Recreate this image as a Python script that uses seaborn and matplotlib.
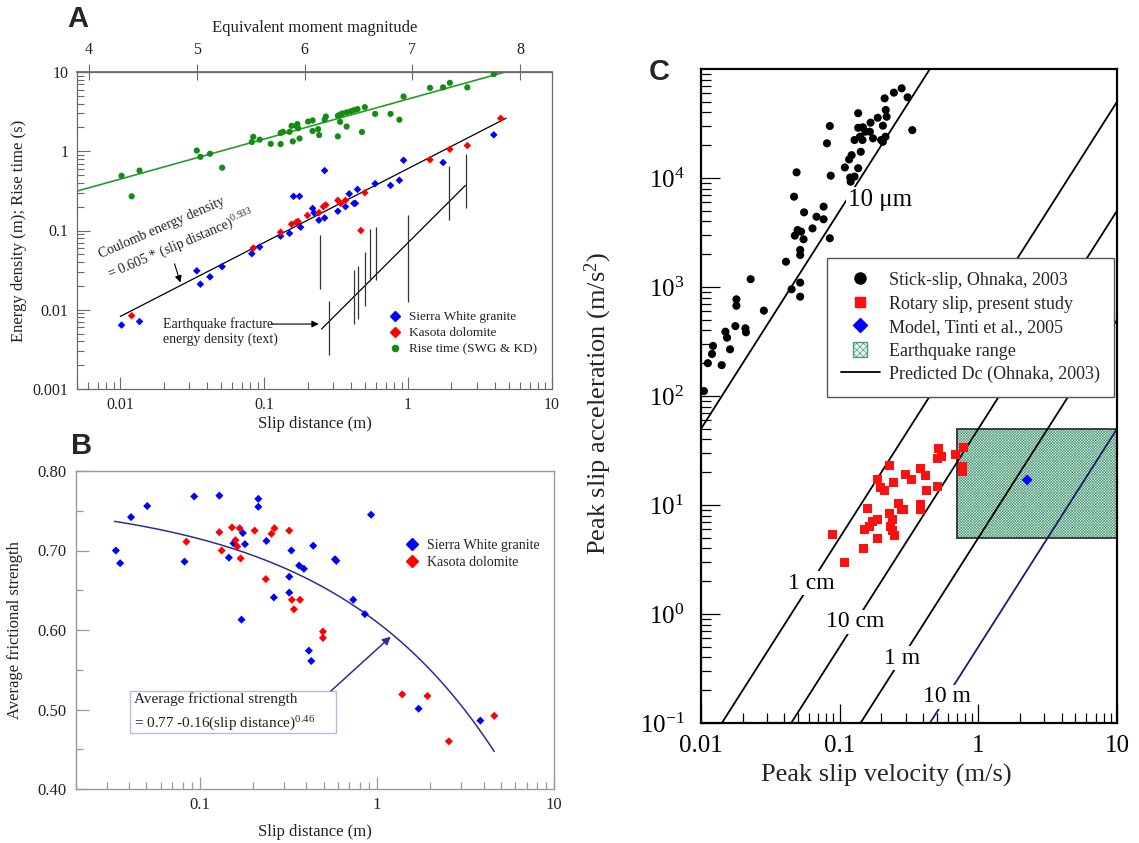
import numpy as np
import matplotlib
matplotlib.use("Agg")
import matplotlib.pyplot as plt
import seaborn as sns
from matplotlib.patches import Rectangle, Patch
from matplotlib.lines import Line2D
from matplotlib.legend_handler import HandlerPatch
from matplotlib.ticker import FixedLocator, NullFormatter, LogLocator, FuncFormatter, MultipleLocator

# ---------------- data: panel A ----------------
swg_slip = [0.0102, 0.0136, 0.034, 0.036, 0.042, 0.051, 0.082, 0.093, 0.13, 0.15,
            0.179, 0.217, 0.222, 0.24, 0.263, 0.325, 0.367, 0.42, 0.43, 0.16,
            0.176, 0.263, 0.39, 0.445, 0.59, 0.755, 0.87, 0.93, 1.75, 3.94]
swg_energy = [0.0064, 0.0071, 0.031, 0.021, 0.026, 0.035, 0.051, 0.062, 0.085, 0.092,
              0.11, 0.19, 0.167, 0.135, 0.144, 0.175, 0.20, 0.22, 0.22, 0.27,
              0.27, 0.57, 0.29, 0.33, 0.39, 0.37, 0.43, 0.77, 0.72, 1.61]

kd_slip = [0.012, 0.084, 0.13, 0.155, 0.167, 0.172, 0.20, 0.24, 0.258, 0.268,
           0.325, 0.34, 0.367, 0.47, 0.50, 1.42, 1.95, 2.58, 4.4]
kd_energy = [0.0084, 0.06, 0.095, 0.12, 0.127, 0.13, 0.155, 0.168, 0.20, 0.21,
             0.24, 0.22, 0.24, 0.10, 0.30, 0.78, 1.06, 1.18, 2.6]

rise_slip = [0.0102, 0.0136, 0.012, 0.034, 0.036, 0.042, 0.051, 0.084, 0.082, 0.093,
             0.111, 0.130, 0.135, 0.130, 0.150, 0.155, 0.167, 0.170, 0.172, 0.158,
             0.176, 0.202, 0.217, 0.217, 0.237, 0.241, 0.263, 0.268, 0.325, 0.337,
             0.35, 0.337, 0.325, 0.374, 0.374, 0.40, 0.42, 0.445, 0.478, 0.50,
             0.59, 0.755, 0.87, 0.93, 1.42, 1.75, 1.95, 2.58, 3.94]
rise_time = [0.49, 0.57, 0.27, 1.02, 0.85, 0.93, 0.62, 1.52, 1.31, 1.40,
             1.24, 1.70, 1.76, 1.23, 1.76, 2.09, 2.09, 2.20, 1.95, 1.33,
             1.45, 2.37, 2.45, 1.80, 1.90, 1.60, 2.50, 2.74, 2.80, 2.90,
             3.00, 2.35, 1.54, 2.05, 3.10, 3.20, 3.30, 3.40, 1.75, 3.60,
             2.96, 2.96, 2.50, 4.90, 6.30, 6.40, 7.30, 6.40, 9.40]

# earthquake fracture energy density ranges (slip, low, high)
eq_slip = [0.245, 0.284, 0.418, 0.449, 0.50, 0.54, 0.597, 1.0, 1.92, 2.51]
eq_low = [0.0185, 0.0027, 0.0066, 0.0076, 0.011, 0.023, 0.024, 0.0125, 0.134, 0.19]
eq_high = [0.089, 0.0129, 0.032, 0.036, 0.053, 0.105, 0.111, 0.159, 0.66, 0.93]
eq_trend_slip = [0.25, 2.5]
eq_trend_energy = [0.0057, 0.37]

# fitted relations
coulomb_a, coulomb_b = 0.605, 0.933
rise_a, rise_b = 4.56, 0.505

# ---------------- data: panel B ----------------
swg_b_slip = [0.0336, 0.0355, 0.0409, 0.0505, 0.082, 0.093, 0.129, 0.146, 0.155, 0.175,
              0.18, 0.172, 0.214, 0.214, 0.238, 0.262, 0.32, 0.32, 0.329, 0.364,
              0.387, 0.413, 0.426, 0.437, 0.58, 0.59, 0.735, 0.855, 0.927, 1.72, 3.84]
swg_b_fric = [0.700, 0.684, 0.742, 0.756, 0.686, 0.768, 0.769, 0.691, 0.709, 0.722,
              0.708, 0.613, 0.765, 0.755, 0.712, 0.641, 0.667, 0.647, 0.700, 0.681,
              0.677, 0.574, 0.561, 0.706, 0.689, 0.687, 0.638, 0.620, 0.745, 0.501, 0.486]
kd_b_slip = [0.084, 0.129, 0.133, 0.152, 0.159, 0.163, 0.168, 0.17, 0.204, 0.236,
             0.254, 0.264, 0.32, 0.331, 0.34, 0.368, 0.496, 0.496, 1.39, 1.93, 2.55, 4.6]
kd_b_fric = [0.711, 0.723, 0.700, 0.729, 0.713, 0.705, 0.728, 0.690, 0.725, 0.664,
             0.721, 0.728, 0.725, 0.638, 0.626, 0.638, 0.598, 0.590, 0.519, 0.517, 0.460, 0.492]
fric_c0, fric_c1, fric_p = 0.77, 0.16, 0.46

# ---------------- data: panel C ----------------
stick_v = [0.0105, 0.0112, 0.0122, 0.012, 0.0141, 0.015, 0.0154, 0.0162, 0.0177, 0.018,
           0.018, 0.0209, 0.0211, 0.0228, 0.0284, 0.041, 0.045, 0.0469, 0.0489, 0.0475,
           0.0497, 0.0527, 0.0549, 0.0519, 0.0519, 0.0519, 0.0519, 0.0554, 0.0637, 0.0681,
           0.0766, 0.0766, 0.0849, 0.0849, 0.081, 0.0862, 0.109, 0.117, 0.122, 0.119,
           0.120, 0.128, 0.136, 0.136, 0.128, 0.136, 0.14, 0.146, 0.142, 0.147,
           0.153, 0.167, 0.165, 0.174, 0.188, 0.199, 0.205, 0.211, 0.215, 0.218,
           0.214, 0.205, 0.246, 0.28, 0.309, 0.334]
stick_a = [111, 200, 288, 243, 192, 389, 343, 268, 438, 771,
           673, 418, 384, 1180, 607, 1706, 953, 6740, 11270, 2960,
           3330, 3220, 2740, 2190, 1966, 1097, 815, 4840, 3450, 4410,
           4180, 5460, 2800, 30000, 20800, 10500, 12500, 14800, 16200, 10100,
           9250, 10300, 12300, 39300, 22300, 28900, 23900, 22300, 17400, 29200,
           26600, 32200, 26600, 23100, 35700, 22300, 30200, 53800, 42100, 36500,
           23900, 21500, 60700, 66500, 55000, 27500]

rotary_v = [0.089, 0.109, 0.149, 0.158, 0.15, 0.164, 0.173, 0.186, 0.188, 0.186,
            0.197, 0.21, 0.229, 0.246, 0.229, 0.239, 0.232, 0.241, 0.249, 0.265,
            0.277, 0.289, 0.297, 0.327, 0.383, 0.383, 0.38, 0.414, 0.424, 0.506,
            0.518, 0.51, 0.546, 0.68, 0.77, 0.78, 0.77]
rotary_a = [5.4, 2.98, 3.95, 9.3, 5.9, 6.3, 7.1, 7.4, 4.9, 17.0,
            14.5, 13.7, 22.9, 16.0, 8.4, 7.3, 6.3, 5.8, 5.2, 10.4,
            9.0, 9.0, 19.2, 17.0, 21.7, 10.0, 9.0, 18.8, 13.7, 14.9,
            32.7, 26.8, 27.7, 28.8, 20.2, 33.6, 22.4]

model_v = [2.25]
model_a = [17.0]

eq_range_v = [0.7, 10.0]
eq_range_a = [5.0, 50.0]

dc_values = [1e-5, 1e-2, 1e-1, 1.0, 10.0]
dc_names = ["10 \u03bcm", "1 cm", "10 cm", "1 m", "10 m"]
dc_label_acc = [6280, 1.92, 0.85, 0.394, 0.174]
ohnaka_k = 5.0

# ---------------- style ----------------
sns.set_theme(style="ticks")
plt.rcParams["font.family"] = ["Liberation Serif", "DejaVu Serif"]
plt.rcParams["mathtext.default"] = "regular"
plt.rcParams["hatch.linewidth"] = 0.45
plt.rcParams["axes.unicode_minus"] = False

W, H = 1139, 843
fig = plt.figure(figsize=(W / 100, H / 100), dpi=100)


def box(l, t, r, b):
    return [l / W, 1 - b / H, (r - l) / W, (b - t) / H]


def plain(v, pos):
    return f"{v:g}"


GREY = "#6a6a6a"
TXT = "#222222"

# ================= Panel A =================
axA = fig.add_axes(box(77, 72, 552, 389))
axA.set_xscale("log")
axA.set_yscale("log")

d_fit = np.logspace(np.log10(0.005), 1, 200)
sns.lineplot(x=d_fit, y=rise_a * d_fit ** rise_b, ax=axA, color="#2a9a2a",
             linewidth=1.2, estimator=None, sort=False)
d_c = np.logspace(-2, np.log10(4.8), 100)
sns.lineplot(x=d_c, y=coulomb_a * d_c ** coulomb_b, ax=axA, color="black",
             linewidth=0.9, estimator=None, sort=False)
sns.lineplot(x=eq_trend_slip, y=eq_trend_energy, ax=axA, color="black",
             linewidth=0.9, estimator=None, sort=False)
axA.vlines(eq_slip, eq_low, eq_high, color="#333333", linewidth=0.9)

sns.scatterplot(x=rise_slip, y=rise_time, ax=axA, marker="o", color="#148c14",
                s=20, edgecolor="none", zorder=3)
sns.scatterplot(x=swg_slip, y=swg_energy, ax=axA, marker="D", color="#0000ff",
                s=15, edgecolor="none", zorder=3)
sns.scatterplot(x=kd_slip, y=kd_energy, ax=axA, marker="D", color="#ff0000",
                s=15, edgecolor="none", zorder=3)

axA.set_xlim(0.005, 10)
axA.set_ylim(0.001, 10)
axA.xaxis.set_major_locator(FixedLocator([0.01, 0.1, 1, 10]))
axA.xaxis.set_major_formatter(FuncFormatter(plain))
axA.xaxis.set_minor_locator(LogLocator(base=10, subs=np.arange(2, 10)))
axA.xaxis.set_minor_formatter(NullFormatter())
axA.yaxis.set_major_locator(FixedLocator([0.001, 0.01, 0.1, 1, 10]))
axA.yaxis.set_major_formatter(FuncFormatter(plain))
axA.yaxis.set_minor_locator(LogLocator(base=10, subs=np.arange(2, 10)))
axA.yaxis.set_minor_formatter(NullFormatter())
axA.tick_params(which="both", direction="in", color=GREY, width=0.8,
                top=False, right=False, labelsize=11.5, labelcolor=TXT)
axA.tick_params(which="major", length=9)
axA.tick_params(which="minor", length=5)
axA.tick_params(axis="x", pad=6)
axA.tick_params(axis="y", pad=6)
for sp in axA.spines.values():
    sp.set_color(GREY)
    sp.set_linewidth(0.9)
axA.set_xlabel("Slip distance (m)", fontsize=12, color=TXT, labelpad=2)
axA.set_ylabel("Energy density (m); Rise time (s)", fontsize=12, color=TXT, labelpad=4)


def d2m(d):
    return 6.96 + (4.0 / 3.0) * np.log10(np.clip(d, 1e-12, None))


def m2d(m):
    return 10 ** ((np.asarray(m) - 6.96) * 0.75)


secA = axA.secondary_xaxis("top", functions=(d2m, m2d))
secA.set_xticks([4, 5, 6, 7, 8])
secA.xaxis.set_major_formatter(FuncFormatter(plain))
secA.tick_params(direction="inout", length=12, color=GREY, width=0.8,
                 labelsize=11.5, labelcolor=TXT, pad=4)
secA.xaxis.set_minor_locator(FixedLocator([]))
secA.spines["top"].set_color(GREY)
secA.set_xlabel("Equivalent moment magnitude", fontsize=12, color=TXT, labelpad=7)


def axfrac_A(px, py):
    return ((px - 77) / 475, (389 - py) / 317)


axA.text(*axfrac_A(101, 258), "Coulomb energy density", transform=axA.transAxes,
         rotation=23.5, rotation_mode="anchor", ha="left", va="baseline",
         fontsize=10, color=TXT)
axA.text(*axfrac_A(110, 279), "= 0.605 * (slip distance)$^{0.933}$",
         transform=axA.transAxes, rotation=23, rotation_mode="anchor",
         ha="left", va="baseline", fontsize=10, color=TXT)
axA.annotate("", xy=(0.0265, 0.0204), xytext=(0.0235, 0.041),
             arrowprops=dict(arrowstyle="-|>", color="black", lw=0.8, mutation_scale=10))
axA.text(*axfrac_A(163, 332), "Earthquake fracture\nenergy density (text)",
         transform=axA.transAxes, ha="left", va="center", fontsize=10,
         color=TXT, linespacing=1.15)
axA.annotate("", xy=(0.25, 0.0066), xytext=(0.107, 0.0066),
             arrowprops=dict(arrowstyle="-|>", color="black", lw=0.8, mutation_scale=10))

legA_handles = [
    Line2D([], [], marker="D", ls="", color="#0000ff", ms=5),
    Line2D([], [], marker="D", ls="", color="#ff0000", ms=5),
    Line2D([], [], marker="o", ls="", color="#148c14", ms=4.5),
]
axA.legend(legA_handles, ["Sierra White granite", "Kasota dolomite", "Rise time (SWG & KD)"],
           loc="upper left", bbox_to_anchor=axfrac_A(388, 311), frameon=False,
           fontsize=9.5, handlelength=1.0, handletextpad=0.6, borderpad=0,
           borderaxespad=0, labelspacing=0.3, labelcolor=TXT)

fig.text(78 / W, 1 - 19 / H, "A", fontsize=21, fontweight="bold",
         family="Liberation Sans", ha="center", va="center")

# ================= Panel B =================
axB = fig.add_axes(box(76, 471, 554, 789))
axB.set_xscale("log")
d_b = np.logspace(np.log10(0.033), np.log10(4.6), 200)
sns.lineplot(x=d_b, y=fric_c0 - fric_c1 * d_b ** fric_p, ax=axB, color="#2e2e92",
             linewidth=1.1, estimator=None, sort=False)
sns.scatterplot(x=swg_b_slip, y=swg_b_fric, ax=axB, marker="D", color="#0000ff",
                s=17, edgecolor="none", zorder=3)
sns.scatterplot(x=kd_b_slip, y=kd_b_fric, ax=axB, marker="D", color="#ff0000",
                s=17, edgecolor="none", zorder=3)
axB.set_xlim(0.02, 10)
axB.set_ylim(0.40, 0.80)
axB.xaxis.set_major_locator(FixedLocator([0.1, 1, 10]))
axB.xaxis.set_major_formatter(FuncFormatter(plain))
axB.xaxis.set_minor_locator(LogLocator(base=10, subs=np.arange(2, 10)))
axB.xaxis.set_minor_formatter(NullFormatter())
axB.yaxis.set_major_locator(MultipleLocator(0.1))
axB.yaxis.set_major_formatter(FuncFormatter(lambda v, p: f"{v:.2f}"))
axB.yaxis.set_minor_locator(MultipleLocator(0.05))
BGREY = "#9a9a9a"
axB.tick_params(which="both", direction="in", color=BGREY, width=0.9,
                top=False, right=False, labelsize=12, labelcolor=TXT)
axB.tick_params(which="major", length=9)
axB.tick_params(which="minor", length=5)
axB.tick_params(axis="x", pad=6)
axB.tick_params(axis="y", pad=7)
for sp in axB.spines.values():
    sp.set_color(BGREY)
    sp.set_linewidth(1.0)
axB.set_xlabel("Slip distance (m)", fontsize=12, color=TXT, labelpad=8)
axB.set_ylabel("Average frictional strength", fontsize=12, color=TXT, labelpad=10)


def axfrac_B(px, py):
    return ((px - 76) / 478, (789 - py) / 318)


x0, y1 = axfrac_B(130, 691)
x1, y0 = axfrac_B(336, 733)
axB.add_patch(Rectangle((x0, y0), x1 - x0, y1 - y0, transform=axB.transAxes,
                        facecolor="white", edgecolor="#b4bedc", linewidth=1.0, zorder=4))
axB.text(*axfrac_B(134, 703), "Average frictional strength", transform=axB.transAxes,
         ha="left", va="baseline", fontsize=11, color=TXT, zorder=5)
axB.text(*axfrac_B(134, 728), "= 0.77 -0.16(slip distance)$^{0.46}$",
         transform=axB.transAxes, ha="left", va="baseline", fontsize=11,
         color=TXT, zorder=5)
axB.annotate("", xy=(1.23, fric_c0 - fric_c1 * 1.23 ** fric_p), xytext=(0.536, 0.521),
             arrowprops=dict(arrowstyle="-|>", color="#2e2e92", lw=1.1, mutation_scale=12),
             zorder=5)

legB_handles = [
    Line2D([], [], marker="D", ls="", color="#0000ff", ms=6),
    Line2D([], [], marker="D", ls="", color="#ff0000", ms=6),
]
axB.legend(legB_handles, ["Sierra White granite", "Kasota dolomite"],
           loc="upper left", bbox_to_anchor=axfrac_B(405, 539), frameon=False,
           fontsize=10, handlelength=1.0, handletextpad=0.6, borderpad=0,
           borderaxespad=0, labelspacing=0.3, labelcolor=TXT)

fig.text(82 / W, 1 - 446 / H, "B", fontsize=21, fontweight="bold",
         family="Liberation Sans", ha="center", va="center")

# ================= Panel C =================
axC = fig.add_axes(box(701, 69, 1117, 723))
axC.set_xscale("log")
axC.set_yscale("log")

eq_face = "#e6f3eb"
eq_hatch = "#4e9c79"
axC.add_patch(Rectangle((eq_range_v[0], eq_range_a[0]), eq_range_v[1] - eq_range_v[0],
                        eq_range_a[1] - eq_range_a[0], facecolor=eq_face,
                        edgecolor=eq_hatch, hatch="x" * 12, linewidth=0, zorder=1))
axC.add_patch(Rectangle((eq_range_v[0], eq_range_a[0]), eq_range_v[1] - eq_range_v[0],
                        eq_range_a[1] - eq_range_a[0], fill=False,
                        edgecolor="#333333", linewidth=1.3, zorder=2))

v_grid = np.logspace(-2, 1, 400)
for dc, name, acc in zip(dc_values, dc_names, dc_label_acc):
    col = "#1c1c6a" if dc >= 10 else "black"
    sns.lineplot(x=v_grid, y=ohnaka_k * v_grid ** 2 / dc, ax=axC, color=col,
                 linewidth=1.3, estimator=None, sort=False, zorder=2)
    v_lab = np.sqrt(acc * dc / ohnaka_k)
    if dc < 1e-3:
        axC.text(v_lab * 1.02, acc, name, fontsize=18, ha="left", va="center",
                 color="black", zorder=3,
                 bbox=dict(facecolor="white", edgecolor="none", pad=1.5))
    else:
        axC.text(v_lab, acc, name, fontsize=17, ha="center", va="center",
                 color="black", zorder=3,
                 bbox=dict(facecolor="white", edgecolor="none", pad=1.0))

sns.scatterplot(x=stick_v, y=stick_a, ax=axC, marker="o", color="black",
                s=34, edgecolor="none", zorder=4)
sns.scatterplot(x=rotary_v, y=rotary_a, ax=axC, marker="s", color="#ff1010",
                s=42, edgecolor="none", zorder=4)
sns.scatterplot(x=model_v, y=model_a, ax=axC, marker="D", color="#0000ff",
                s=30, edgecolor="none", zorder=5)

axC.set_xlim(0.01, 10)
axC.set_ylim(0.1, 1e5)
axC.xaxis.set_major_locator(FixedLocator([0.01, 0.1, 1, 10]))
axC.xaxis.set_major_formatter(FuncFormatter(plain))
axC.xaxis.set_minor_locator(LogLocator(base=10, subs=np.arange(2, 10)))
axC.xaxis.set_minor_formatter(NullFormatter())
axC.yaxis.set_major_locator(FixedLocator([0.1, 1, 10, 100, 1000, 10000]))
axC.yaxis.set_major_formatter(FuncFormatter(lambda v, p: f"$10^{{{int(round(np.log10(v)))}}}$"))
axC.yaxis.set_minor_locator(LogLocator(base=10, subs=np.arange(2, 10)))
axC.yaxis.set_minor_formatter(NullFormatter())
axC.tick_params(which="both", direction="in", color="black", width=0.9,
                top=False, right=False, labelsize=18, labelcolor="black")
axC.tick_params(which="major", length=14)
axC.tick_params(which="minor", length=7)
axC.tick_params(axis="x", pad=9)
axC.tick_params(axis="y", pad=12)
for sp in axC.spines.values():
    sp.set_color("black")
    sp.set_linewidth(1.6)
axC.set_xlabel("Peak slip velocity (m/s)", fontsize=19)
axC.set_ylabel("Peak slip acceleration (m/s$^{2}$)", fontsize=19)
axC.xaxis.set_label_coords((886 - 701) / 416, (723 - 764) / 654)
axC.yaxis.set_label_coords((614 - 701) / 416, (723 - 403) / 654)


def square_handle(legend, orig_handle, xdescent, ydescent, width, height, fontsize):
    side = 0.78 * fontsize
    return Rectangle((-xdescent + width / 2 - side / 2, -ydescent + height / 2 - side / 2),
                     side, side)


legC_handles = [
    Line2D([], [], marker="o", ls="", color="black", ms=8),
    Line2D([], [], marker="s", ls="", color="#ff1010", ms=7.5),
    Line2D([], [], marker="D", ls="", color="#0000ff", ms=7),
    Patch(facecolor=eq_face, edgecolor=eq_hatch, hatch="x" * 5, linewidth=1.0),
    Line2D([], [], color="black", lw=1.3),
]
legC = axC.legend(legC_handles,
                  ["Stick-slip, Ohnaka, 2003", "Rotary slip, present study",
                   "Model, Tinti et al., 2005", "Earthquake range",
                   "Predicted Dc (Ohnaka, 2003)"],
                  loc="upper left", bbox_to_anchor=((827 - 701) / 416, (723 - 258) / 654),
                  fontsize=13, handlelength=2.2, handletextpad=0.5, borderpad=0.75,
                  borderaxespad=0, labelspacing=0.32, fancybox=False, framealpha=1,
                  edgecolor="#555555", handleheight=0.9,
                  handler_map={Patch: HandlerPatch(patch_func=square_handle)})
legC.get_frame().set_linewidth(1.0)
legC.set_zorder(6)

fig.text(659 / W, 1 - 72 / H, "C", fontsize=21, fontweight="bold",
         family="Liberation Sans", ha="center", va="center")

fig.savefig("out.png", dpi=100, facecolor="white")
